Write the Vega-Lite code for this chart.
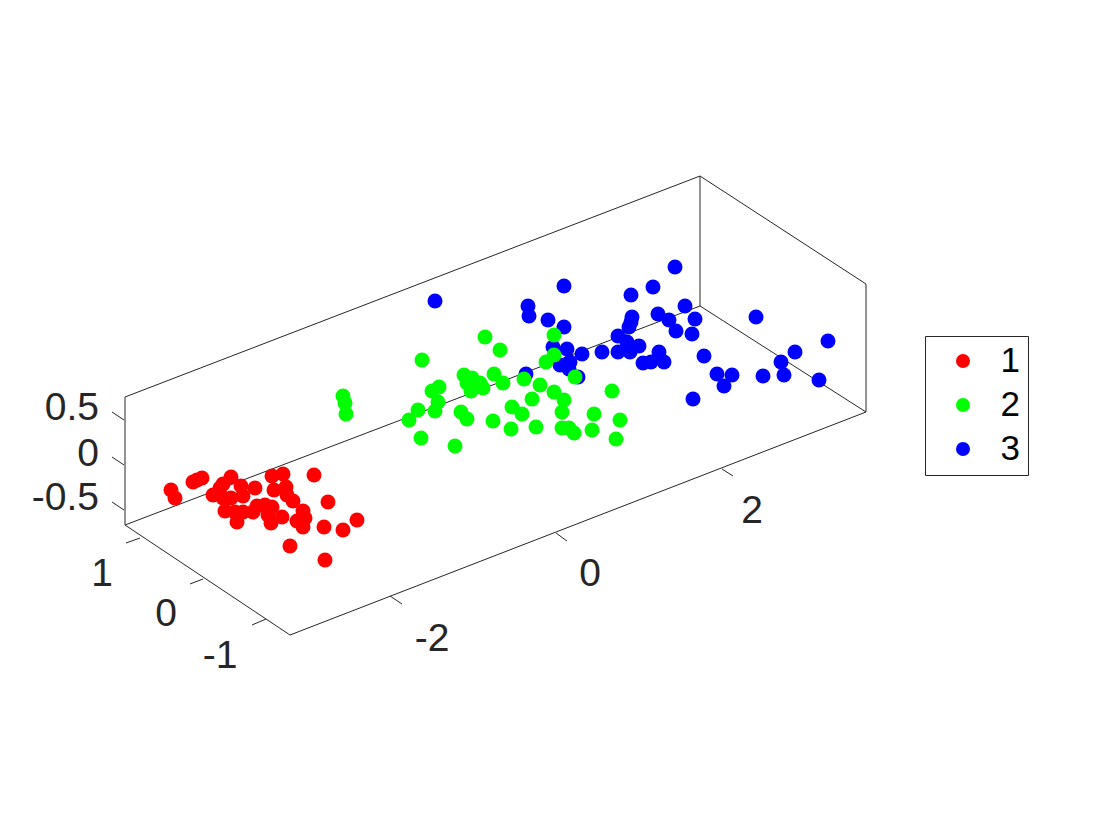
{"$schema":"https://vega.github.io/schema/vega-lite/v6.json","width":1120,"height":840,"autosize":{"type":"fit","contains":"padding"},"padding":0,"background":"white","view":{"stroke":null},
"datasets":{
"edges":[{"h":125,"v":525,"h2":125,"v2":397},{"h":125,"v":397,"h2":700,"v2":176},{"h":700,"v":176,"h2":700,"v2":306},{"h":125,"v":525,"h2":700,"v2":306},{"h":700,"v":306,"h2":866,"v2":412},{"h":700,"v":176,"h2":866,"v2":284},{"h":866,"v":284,"h2":866,"v2":412},{"h":125,"v":525,"h2":290,"v2":635},{"h":290,"v":635,"h2":866,"v2":412},
{"h":112,"v":412,"h2":124,"v2":420},{"h":112,"v":457,"h2":124,"v2":465},{"h":112,"v":502,"h2":124,"v2":510},
{"h":126,"v":543,"h2":140,"v2":538},{"h":190,"v":584,"h2":203,"v2":579},{"h":252,"v":625,"h2":266,"v2":619},
{"h":390,"v":596,"h2":402,"v2":604},{"h":556,"v":533,"h2":567,"v2":541},{"h":722,"v":469,"h2":733,"v2":476}],
"ticksRight":[{"h":99,"v":408,"t":"0.5"},{"h":99,"v":454,"t":"0"},{"h":99,"v":498,"t":"-0.5"}],
"ticksCenter":[{"h":102,"v":574,"t":"1"},{"h":166,"v":614,"t":"0"},{"h":220,"v":656,"t":"-1"},{"h":432,"v":639,"t":"-2"},{"h":590,"v":574,"t":"0"},{"h":752,"v":511,"t":"2"}],
"points":[
{"h":435,"v":301,"group":"3"},{"h":564,"v":286,"group":"3"},{"h":528,"v":306,"group":"3"},{"h":529,"v":316,"group":"3"},{"h":548,"v":320,"group":"3"},{"h":564,"v":327,"group":"3"},{"h":553,"v":347,"group":"3"},{"h":567,"v":349,"group":"3"},{"h":582,"v":354,"group":"3"},{"h":602,"v":352,"group":"3"},{"h":560,"v":365,"group":"3"},{"h":570,"v":362,"group":"3"},{"h":569,"v":369,"group":"3"},{"h":578,"v":377,"group":"3"},{"h":526,"v":374,"group":"3"},{"h":631,"v":295,"group":"3"},{"h":653,"v":287,"group":"3"},{"h":675,"v":267,"group":"3"},{"h":632,"v":317,"group":"3"},{"h":631,"v":322,"group":"3"},{"h":629,"v":327,"group":"3"},{"h":618,"v":336,"group":"3"},{"h":627,"v":342,"group":"3"},{"h":618,"v":352,"group":"3"},{"h":630,"v":352,"group":"3"},{"h":628,"v":345,"group":"3"},{"h":639,"v":346,"group":"3"},{"h":643,"v":363,"group":"3"},{"h":651,"v":362,"group":"3"},{"h":659,"v":352,"group":"3"},{"h":664,"v":362,"group":"3"},{"h":658,"v":314,"group":"3"},{"h":669,"v":320,"group":"3"},{"h":685,"v":306,"group":"3"},{"h":695,"v":319,"group":"3"},{"h":676,"v":331,"group":"3"},{"h":692,"v":334,"group":"3"},{"h":756,"v":317,"group":"3"},{"h":704,"v":356,"group":"3"},{"h":717,"v":374,"group":"3"},{"h":732,"v":375,"group":"3"},{"h":724,"v":386,"group":"3"},{"h":693,"v":399,"group":"3"},{"h":763,"v":376,"group":"3"},{"h":784,"v":375,"group":"3"},{"h":781,"v":362,"group":"3"},{"h":795,"v":352,"group":"3"},{"h":828,"v":341,"group":"3"},{"h":819,"v":380,"group":"3"},
{"h":343,"v":396,"group":"2"},{"h":345,"v":403,"group":"2"},{"h":346,"v":414,"group":"2"},{"h":422,"v":360,"group":"2"},{"h":485,"v":337,"group":"2"},{"h":500,"v":350,"group":"2"},{"h":554,"v":335,"group":"2"},{"h":554,"v":355,"group":"2"},{"h":546,"v":362,"group":"2"},{"h":464,"v":375,"group":"2"},{"h":472,"v":378,"group":"2"},{"h":467,"v":383,"group":"2"},{"h":480,"v":383,"group":"2"},{"h":483,"v":388,"group":"2"},{"h":471,"v":391,"group":"2"},{"h":494,"v":374,"group":"2"},{"h":503,"v":383,"group":"2"},{"h":524,"v":379,"group":"2"},{"h":540,"v":385,"group":"2"},{"h":575,"v":377,"group":"2"},{"h":439,"v":387,"group":"2"},{"h":432,"v":391,"group":"2"},{"h":438,"v":402,"group":"2"},{"h":435,"v":411,"group":"2"},{"h":418,"v":410,"group":"2"},{"h":409,"v":420,"group":"2"},{"h":421,"v":438,"group":"2"},{"h":455,"v":446,"group":"2"},{"h":461,"v":412,"group":"2"},{"h":467,"v":419,"group":"2"},{"h":493,"v":421,"group":"2"},{"h":512,"v":407,"group":"2"},{"h":522,"v":414,"group":"2"},{"h":532,"v":399,"group":"2"},{"h":554,"v":392,"group":"2"},{"h":564,"v":400,"group":"2"},{"h":562,"v":412,"group":"2"},{"h":612,"v":391,"group":"2"},{"h":594,"v":414,"group":"2"},{"h":620,"v":420,"group":"2"},{"h":592,"v":430,"group":"2"},{"h":616,"v":439,"group":"2"},{"h":511,"v":429,"group":"2"},{"h":536,"v":427,"group":"2"},{"h":562,"v":428,"group":"2"},{"h":569,"v":428,"group":"2"},{"h":574,"v":433,"group":"2"},
{"h":171,"v":490,"group":"1"},{"h":175,"v":498,"group":"1"},{"h":193,"v":482,"group":"1"},{"h":197,"v":480,"group":"1"},{"h":202,"v":478,"group":"1"},{"h":231,"v":477,"group":"1"},{"h":223,"v":484,"group":"1"},{"h":220,"v":488,"group":"1"},{"h":213,"v":495,"group":"1"},{"h":223,"v":498,"group":"1"},{"h":231,"v":498,"group":"1"},{"h":241,"v":486,"group":"1"},{"h":243,"v":496,"group":"1"},{"h":255,"v":488,"group":"1"},{"h":272,"v":476,"group":"1"},{"h":283,"v":474,"group":"1"},{"h":314,"v":475,"group":"1"},{"h":274,"v":490,"group":"1"},{"h":286,"v":487,"group":"1"},{"h":287,"v":495,"group":"1"},{"h":293,"v":501,"group":"1"},{"h":328,"v":502,"group":"1"},{"h":225,"v":511,"group":"1"},{"h":235,"v":512,"group":"1"},{"h":243,"v":512,"group":"1"},{"h":237,"v":522,"group":"1"},{"h":253,"v":512,"group":"1"},{"h":257,"v":506,"group":"1"},{"h":265,"v":505,"group":"1"},{"h":272,"v":507,"group":"1"},{"h":268,"v":515,"group":"1"},{"h":271,"v":523,"group":"1"},{"h":282,"v":517,"group":"1"},{"h":303,"v":511,"group":"1"},{"h":305,"v":518,"group":"1"},{"h":297,"v":521,"group":"1"},{"h":303,"v":527,"group":"1"},{"h":324,"v":527,"group":"1"},{"h":343,"v":530,"group":"1"},{"h":357,"v":520,"group":"1"},{"h":290,"v":546,"group":"1"},{"h":325,"v":560,"group":"1"}
]},
"layer":[
{"data":{"name":"edges"},"mark":{"type":"rule","color":"#262626","strokeWidth":1},"encoding":{"x":{"field":"h","type":"quantitative","scale":{"domain":[0,1120],"nice":false,"zero":false},"axis":null},"y":{"field":"v","type":"quantitative","scale":{"domain":[840,0],"nice":false,"zero":false},"axis":null},"x2":{"field":"h2"},"y2":{"field":"v2"}}},
{"data":{"name":"points"},"mark":{"type":"point","filled":true,"opacity":1,"size":225},"encoding":{"x":{"field":"h","type":"quantitative","scale":{"domain":[0,1120],"nice":false,"zero":false},"axis":null},"y":{"field":"v","type":"quantitative","scale":{"domain":[840,0],"nice":false,"zero":false},"axis":null},"color":{"field":"group","type":"nominal","scale":{"domain":["1","2","3"],"range":["#ff0000","#00ff00","#0000ff"]},"legend":{"title":null,"orient":"none","legendX":925,"legendY":336,"symbolType":"circle","symbolSize":196,"symbolOpacity":1,"labelFontSize":35,"labelFont":"Liberation Sans","labelColor":"#000000","rowPadding":8,"padding":7.5,"symbolOffset":13,"labelOffset":20,"strokeColor":"#262626","fillColor":"white"}}}},
{"data":{"name":"ticksRight"},"mark":{"type":"text","align":"right","baseline":"middle","font":"Liberation Sans","fontSize":39,"color":"#262626"},"encoding":{"x":{"field":"h","type":"quantitative","scale":{"domain":[0,1120],"nice":false,"zero":false},"axis":null},"y":{"field":"v","type":"quantitative","scale":{"domain":[840,0],"nice":false,"zero":false},"axis":null},"text":{"field":"t"}}},
{"data":{"name":"ticksCenter"},"mark":{"type":"text","align":"center","baseline":"middle","font":"Liberation Sans","fontSize":39,"color":"#262626"},"encoding":{"x":{"field":"h","type":"quantitative","scale":{"domain":[0,1120],"nice":false,"zero":false},"axis":null},"y":{"field":"v","type":"quantitative","scale":{"domain":[840,0],"nice":false,"zero":false},"axis":null},"text":{"field":"t"}}}
]}
